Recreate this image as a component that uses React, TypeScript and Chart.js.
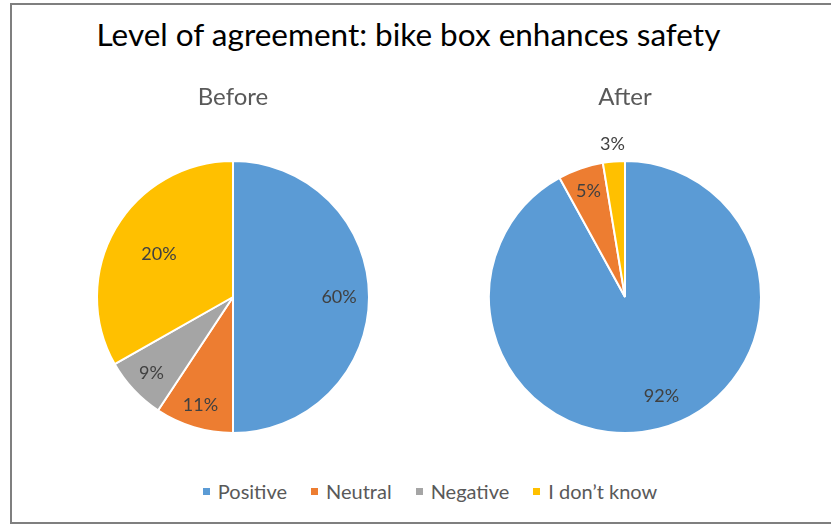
import React, { useEffect, useRef } from "react";
import { Chart, registerables } from "chart.js";

Chart.register(...registerables);

const chartTitle = "Level of agreement: bike box enhances safety";
const categories = ["Positive", "Neutral", "Negative", "I don\u2019t know"];
const colors = ["#5B9BD5", "#ED7D31", "#A5A5A5", "#FFC000"];

// Slice sizes as drawn in the picture (share of the circle, %)
const beforeValues = [50, 9.3, 7.5, 33.2];
const afterValues = [92, 5.4, 0, 2.6];

// Data labels as printed on the picture
const beforeLabels = ["60%", "11%", "9%", "20%"];
const afterLabels = ["92%", "5%", "", "3%"];

const FONT = "Lato, 'Open Sans', sans-serif";

const sliceLabelPlugin = {
  id: "sliceLabels",
  afterDatasetsDraw(chart: any, _args: any, opts: any) {
    const meta = chart.getDatasetMeta(0);
    const ctx = chart.ctx;
    ctx.save();
    ctx.font = opts.font;
    ctx.fillStyle = opts.color;
    ctx.textAlign = "center";
    ctx.textBaseline = "middle";
    meta.data.forEach((arc: any, i: number) => {
      const text = opts.texts[i];
      if (!text) return;
      const p = arc.getProps(["x", "y", "startAngle", "endAngle", "outerRadius"], true);
      const mid = (p.startAngle + p.endAngle) / 2 + (opts.angleShift?.[i] || 0);
      const r = p.outerRadius * opts.radii[i];
      ctx.fillText(text, p.x + Math.cos(mid) * r, p.y + Math.sin(mid) * r);
    });
    ctx.restore();
  },
};

function PieChart(props: {
  title: string;
  values: number[];
  texts: string[];
  radii: number[];
  angleShift?: number[];
  left: number;
}) {
  const ref = useRef<HTMLCanvasElement | null>(null);
  useEffect(() => {
    if (!ref.current) return;
    const chart = new Chart(ref.current, {
      type: "pie",
      data: {
        labels: categories,
        datasets: [
          {
            data: props.values,
            backgroundColor: colors,
            borderColor: "#ffffff",
            borderWidth: 2,
          },
        ],
      },
      options: {
        responsive: false,
        animation: false,
        devicePixelRatio: 1,
        layout: { padding: 0 },
        plugins: {
          legend: { display: false },
          tooltip: { enabled: false },
          title: {
            display: true,
            text: props.title,
            color: "#595959",
            font: { family: FONT, size: 24, weight: "normal" },
            padding: { top: 8.6, bottom: 48.6 },
          },
          sliceLabels: {
            texts: props.texts,
            radii: props.radii,
            angleShift: props.angleShift,
            font: `18px ${FONT}`,
            color: "#404040",
          },
        } as any,
      },
      plugins: [sliceLabelPlugin],
    });
    return () => chart.destroy();
  }, []);
  return (
    <canvas
      ref={ref}
      width={300}
      height={360}
      style={{ position: "absolute", left: props.left, top: 74, width: 300, height: 360 }}
    />
  );
}

export default function App() {
  return (
    <div
      style={{
        position: "absolute",
        left: 0,
        top: 0,
        width: 831,
        height: 526,
        overflow: "hidden",
        background: "#ffffff",
        fontFamily: FONT,
      }}
    >
      <div
        style={{
          position: "absolute",
          left: 10,
          top: 3,
          width: 840,
          height: 521,
          boxSizing: "border-box",
          border: "2px solid #7f7f7f",
        }}
      />
      <div
        style={{
          position: "absolute",
          left: 0,
          width: 817,
          top: 15,
          textAlign: "center",
          fontSize: 31.5,
          lineHeight: "38px",
          color: "#000000",
          whiteSpace: "nowrap",
        }}
      >
        {chartTitle}
      </div>
      <PieChart
        title="Before"
        values={beforeValues}
        texts={beforeLabels}
        radii={[0.78, 0.83, 0.82, 0.63]}
        left={83}
      />
      <PieChart
        title="After"
        values={afterValues}
        texts={afterLabels}
        radii={[0.78, 0.82, 0, 1.13]}
        angleShift={[-0.1, 0, 0, 0]}
        left={475}
      />
      <div
        style={{
          position: "absolute",
          left: 0,
          width: 860,
          top: 479,
          display: "flex",
          justifyContent: "center",
          gap: 24,
          fontSize: 20,
          lineHeight: "24px",
          color: "#595959",
          whiteSpace: "nowrap",
        }}
      >
        {categories.map((c, i) => (
          <div key={c} style={{ display: "flex", alignItems: "center" }}>
            <span
              style={{
                display: "inline-block",
                width: 7,
                height: 7,
                background: colors[i],
                marginRight: 8,
              }}
            />
            <span>{c}</span>
          </div>
        ))}
      </div>
    </div>
  );
}
